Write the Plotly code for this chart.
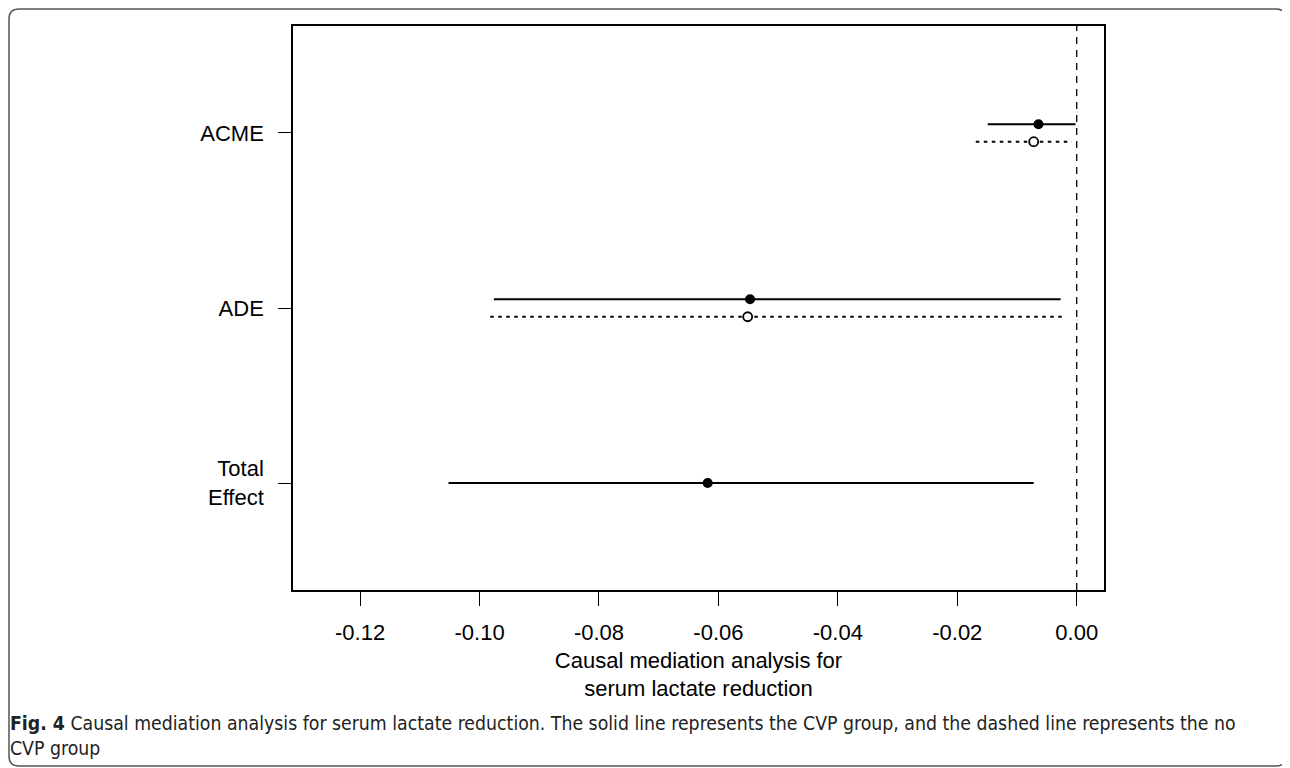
import plotly.graph_objects as go

# ---- data ----
effects = ["ACME", "ADE", "Total Effect"]
tick_labels = ["ACME", "ADE", "Total<br>Effect"]
tick_positions = [3, 2, 1]

cvp_est = [-0.0064, -0.0547, -0.0618]
cvp_lo = [-0.0149, -0.0976, -0.1052]
cvp_hi = [-0.0002, -0.0027, -0.0072]

nocvp_est = [-0.0072, -0.0551, None]
nocvp_lo = [-0.0169, -0.0982, None]
nocvp_hi = [-0.0008, -0.0025, None]

x_ticks = [-0.12, -0.10, -0.08, -0.06, -0.04, -0.02, 0.00]
x_tick_text = ["-0.12", "-0.10", "-0.08", "-0.06", "-0.04", "-0.02", "0.00"]

caption = ("<b>Fig. 4</b> Causal mediation analysis for serum lactate reduction. "
           "The solid line represents the CVP group, and the dashed line represents the no<br>CVP group")

# ---- build traces ----
OFF = 0.05
fig = go.Figure()

def seg_xy(lo, hi, pos):
    xs, ys = [], []
    for l, h, p in zip(lo, hi, pos):
        xs += [l, h, None]
        ys += [p, p, None]
    return xs, ys

# solid (CVP) group: offset up only when a no-CVP counterpart exists
cvp_pos = [p + (OFF if n is not None else 0) for p, n in zip(tick_positions, nocvp_est)]
xs, ys = seg_xy(cvp_lo, cvp_hi, cvp_pos)
fig.add_trace(go.Scatter(x=xs, y=ys, mode="lines", line=dict(color="black", width=2),
                         hoverinfo="skip", showlegend=False))
fig.add_trace(go.Scatter(x=cvp_est, y=cvp_pos, mode="markers",
                         marker=dict(color="black", size=10, line=dict(width=0)),
                         showlegend=False, name="CVP"))

# dashed (no CVP) group
idx = [i for i, v in enumerate(nocvp_est) if v is not None]
nc_pos = [tick_positions[i] - OFF for i in idx]
xs, ys = seg_xy([nocvp_lo[i] for i in idx], [nocvp_hi[i] for i in idx], nc_pos)
fig.add_trace(go.Scatter(x=xs, y=ys, mode="lines",
                         line=dict(color="black", width=2, dash="3.5px,4.5px"),
                         hoverinfo="skip", showlegend=False))
fig.add_trace(go.Scatter(x=[nocvp_est[i] for i in idx], y=nc_pos, mode="markers",
                         marker=dict(color="white", size=9, line=dict(color="black", width=1.8)),
                         showlegend=False, name="no CVP"))

# vertical reference line at 0
fig.add_shape(type="line", xref="x", yref="paper", x0=0, x1=0, y0=0, y1=1,
              line=dict(color="black", width=1.3, dash="7px,6px"))

# outer rounded frame (paper coords)
L, R, T, B = -0.3502, 1.2244, 1.0301, -0.3121
rx, ry = 0.0123, 0.0177
path = (f"M {L+rx},{T} L {R-rx},{T} Q {R},{T} {R},{T-ry} L {R},{B+ry} Q {R},{B} {R-rx},{B} "
        f"L {L+rx},{B} Q {L},{B} {L},{B+ry} L {L},{T-ry} Q {L},{T} {L+rx},{T} Z")
fig.add_shape(type="path", xref="paper", yref="paper", path=path,
              line=dict(color="#555555", width=1.5), layer="below")

# caption
fig.add_annotation(xref="paper", yref="paper", x=-0.3515, y=-0.2128,
                   xanchor="left", yanchor="top", align="left", showarrow=False,
                   text=caption,
                   font=dict(family="Liberation Sans Narrow, DejaVu Sans Condensed, Open Sans",
                             size=19.3, color="#222222"))

font_main = "Arial, Liberation Sans, sans-serif"
fig.update_layout(
    width=1282, height=760,
    margin=dict(l=285, r=186, t=18, b=178, autoexpand=False),
    plot_bgcolor="white", paper_bgcolor="white",
    font=dict(family=font_main, size=22, color="black"),
    xaxis=dict(range=[-0.13124, 0.00457], tickvals=x_ticks, ticktext=x_tick_text,
               ticks="outside", ticklen=14, tickwidth=1.3, tickcolor="black",
               showline=True, linecolor="black", linewidth=1.5, mirror=True,
               showgrid=False, zeroline=False, ticklabelstandoff=8,
               tickfont=dict(size=22),
               title=dict(text="Causal mediation analysis for<br>serum lactate reduction",
                          font=dict(size=22), standoff=8)),
    yaxis=dict(range=[0.389, 3.611], tickvals=tick_positions, ticktext=tick_labels,
               ticks="outside", ticklen=13, tickwidth=1.3, tickcolor="black",
               showline=True, linecolor="black", linewidth=1.5, mirror=True,
               showgrid=False, zeroline=False, ticklabelstandoff=10,
               tickfont=dict(size=22)),
)

fig.write_html("out.html")
